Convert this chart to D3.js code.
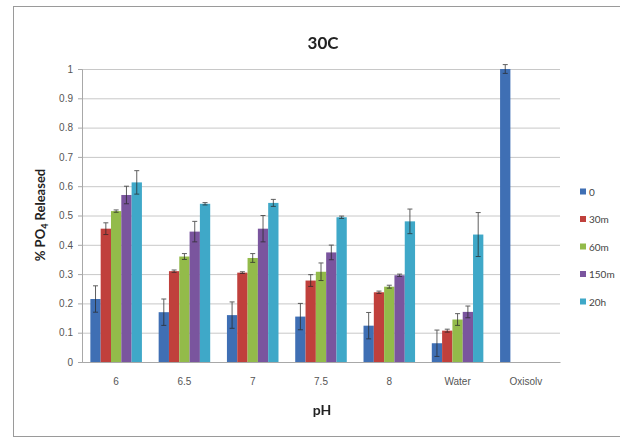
<!DOCTYPE html>
<meta charset="utf-8">
<style>
body { margin: 0; background: #fff; }
svg { font-family: Lato, "Open Sans", sans-serif; }
.tick text { fill: #555; font-size: 10px; }
</style>
<svg width="620" height="439"></svg>
<script src="https://d3js.org/d3.v7.min.js"></script>
<script>

// categories along the x axis, one group of bars each
var categories = ["6", "6.5", "7", "7.5", "8", "Water", "Oxisolv"];
var series = ["0", "30m", "60m", "150m", "20h"];
var colors = ["#3f6fb4", "#c0403c", "#93bb4a", "#7a559e", "#3fa8c8"];

// null = no bar
var v0    = [0.215, 0.17, 0.16, 0.155, 0.124, 0.064, 1.0];
var v30m  = [0.455, 0.31, 0.305, 0.278, 0.238, 0.107, null];
var v60m  = [0.515, 0.36, 0.355, 0.308, 0.257, 0.145, null];
var v150m = [0.57, 0.445, 0.455, 0.374, 0.296, 0.171, null];
var v20h  = [0.613, 0.54, 0.543, 0.494, 0.48, 0.435, null];

var e0    = [0.045, 0.045, 0.045, 0.045, 0.045, 0.045, 0.015];
var e30m  = [0.02, 0.004, 0.003, 0.02, 0.004, 0.005, null];
var e60m  = [0.004, 0.01, 0.015, 0.03, 0.005, 0.02, null];
var e150m = [0.03, 0.035, 0.045, 0.025, 0.004, 0.02, null];
var e20h  = [0.04, 0.004, 0.012, 0.004, 0.042, 0.075, null];

var yTicks = [0, 0.1, 0.2, 0.3, 0.4, 0.5, 0.6, 0.7, 0.8, 0.9, 1];

var values = [v0, v30m, v60m, v150m, v20h];
var errors = [e0, e30m, e60m, e150m, e20h];

var svg = d3.select("svg");

// chart frame
svg.append("rect")
    .attr("x", 13.5).attr("y", 6.5)
    .attr("width", 640).attr("height", 430)
    .attr("fill", "#fff").attr("stroke", "#9a9a9a");

var margin = {left: 82, right: 60, top: 69, bottom: 77};
var width = 560 - margin.left, height = 362 - margin.top;

var x = d3.scaleBand().domain(categories).range([0, width]).paddingInner(0.245).paddingOuter(0.1225);
var xs = d3.scaleBand().domain(series).range([0, x.bandwidth()]);
var y = d3.scaleLinear().domain([0, 1]).range([height, 0]);

var g = svg.append("g").attr("transform", "translate(" + margin.left + "," + margin.top + ")");

// gridlines
g.append("g")
    .call(d3.axisLeft(y).tickValues(yTicks).tickSize(-width).tickFormat(""))
    .call(function(a) {
      a.select(".domain").remove();
      a.selectAll("line").attr("stroke", "#c8c8c8");
    });

g.append("g")
    .call(d3.axisLeft(y).tickValues(yTicks).tickSize(4).tickFormat(d3.format("")))
    .call(function(a) {
      a.select(".domain").attr("stroke", "#a8a8a8");
      a.selectAll("line").attr("stroke", "#a8a8a8");
      a.selectAll("text").attr("x", -9);
    });

g.append("g")
    .attr("transform", "translate(0," + height + ")")
    .call(d3.axisBottom(x).tickSize(0).tickPadding(16))
    .call(function(a) {
      a.select(".domain").attr("stroke", "#a8a8a8");
    });

var bars = [];
series.forEach(function(s, si) {
  categories.forEach(function(c, ci) {
    if (values[si][ci] != null) bars.push({s: s, si: si, c: c, v: values[si][ci], e: errors[si][ci]});
  });
});

g.append("g").selectAll("rect").data(bars).enter().append("rect")
    .attr("x", function(d) { return x(d.c) + xs(d.s); })
    .attr("width", xs.bandwidth())
    .attr("y", function(d) { return y(d.v); })
    .attr("height", function(d) { return height - y(d.v); })
    .attr("fill", function(d) { return colors[d.si]; });

// error bars
var eb = g.append("g").attr("stroke", "#2a2a2a").attr("stroke-width", 1).attr("opacity", 0.75)
  .selectAll("g").data(bars).enter().append("g")
    .attr("transform", function(d) { return "translate(" + (x(d.c) + xs(d.s) + xs.bandwidth() / 2) + ",0)"; });
eb.append("line")
    .attr("y1", function(d) { return y(d.v - d.e); })
    .attr("y2", function(d) { return y(d.v + d.e); });
eb.append("line").attr("x1", -2.5).attr("x2", 2.5)
    .attr("y1", function(d) { return y(d.v + d.e); }).attr("y2", function(d) { return y(d.v + d.e); });
eb.append("line").attr("x1", -2.5).attr("x2", 2.5)
    .attr("y1", function(d) { return y(d.v - d.e); }).attr("y2", function(d) { return y(d.v - d.e); });

// titles
svg.append("text").attr("x", 323).attr("y", 49).attr("text-anchor", "middle")
    .attr("font-size", 17).attr("font-weight", "bold").attr("fill", "#222").text("30C");

svg.append("text").attr("x", 322).attr("y", 415).attr("text-anchor", "middle")
    .attr("font-size", 14).attr("font-weight", "bold").attr("fill", "#222").text("pH");

var yl = svg.append("text").attr("transform", "translate(45,215) rotate(-90)")
    .attr("text-anchor", "middle").attr("font-size", 13).attr("font-weight", "bold").attr("fill", "#222");
yl.append("tspan").text("% PO");
yl.append("tspan").attr("font-size", 9).attr("dy", 3).text("4");
yl.append("tspan").attr("dy", -3).text(" Released");

// legend
var lg = svg.append("g").selectAll("g").data(series).enter().append("g")
    .attr("transform", function(d, i) { return "translate(580," + (192 + i * 27.5) + ")"; });
lg.append("rect").attr("x", 0).attr("y", -3.5).attr("width", 6).attr("height", 6)
    .attr("fill", function(d, i) { return colors[i]; });
lg.append("text").attr("x", 9).attr("dy", "0.35em").attr("font-size", 10).attr("fill", "#444")
    .text(function(d) { return d; });

</script>
